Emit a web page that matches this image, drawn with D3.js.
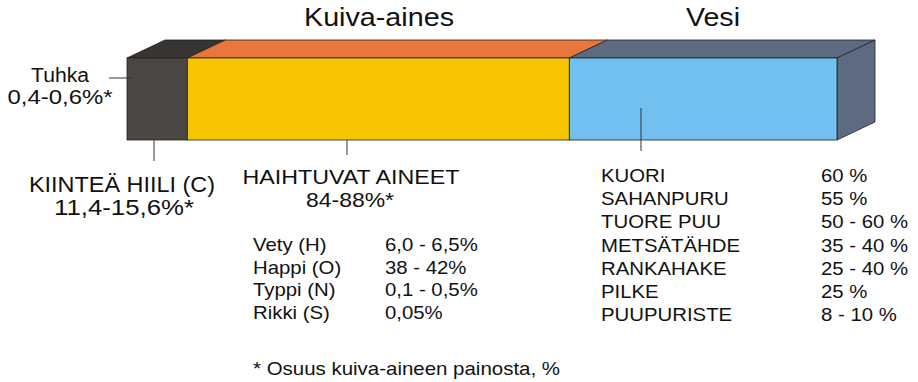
<!DOCTYPE html>
<html>
<head>
<meta charset="utf-8">
<script src="https://cdn.jsdelivr.net/npm/d3@7"></script>
<style>
  body { margin: 0; background: #fff; }
  svg { display: block; font-family: "Liberation Sans", Arial, sans-serif; fill: #111; }
</style>
</head>
<body>
<svg id="chart" width="918" height="382"></svg>
<script>
// bar segments (schematic share of the bar width)
const segments = ["Tuhka + kiinteä hiili", "Haihtuvat aineet", "Vesi"];
const segmentShares = [8.5, 53.8, 37.7];
const frontColors = ["#4a4644", "#f6c400", "#72c0f0"];
const topColors = ["#383432", "#e8773e", "#5e6a82"];

const groupTitles = ["Kuiva-aines", "Vesi"];

const elements = ["Vety (H)", "Happi (O)", "Typpi (N)", "Rikki (S)"];
const elementShares = ["6,0 - 6,5%", "38 - 42%", "0,1 - 0,5%", "0,05%"];

const fuels = ["KUORI", "SAHANPURU", "TUORE PUU", "METSÄTÄHDE", "RANKAHAKE", "PILKE", "PUUPURISTE"];
const moisture = ["60 %", "55 %", "50 - 60 %", "35 - 40 %", "25 - 40 %", "25 %", "8 - 10 %"];

const Chart = {
    svg: null,
    bar: { x0: 127, x1: 837, y0: 58, y1: 140, dx: 38, dy: -18 },

    init() {
        this.svg = d3.select("#chart");
        this.drawBar();
        this.drawLeaders();
        this.drawLabels();
        this.drawTables();
    },

    drawBar() {
        const b = this.bar;
        const x = d3.scaleLinear()
            .domain([0, d3.sum(segmentShares)])
            .range([b.x0, b.x1]);
        const cum = d3.cumsum(segmentShares);
        const parts = segments.map((name, i) => ({
            name,
            start: i ? cum[i - 1] : 0,
            end: cum[i],
            front: frontColors[i],
            top: topColors[i]
        }));
        const g = this.svg.append("g").attr("class", "bar");
        const line = d3.line();

        // top faces
        g.selectAll("path.top").data(parts).enter().append("path")
            .attr("class", "top")
            .attr("d", d => line([
                [x(d.start), b.y0], [x(d.end), b.y0],
                [x(d.end) + b.dx, b.y0 + b.dy], [x(d.start) + b.dx, b.y0 + b.dy]
            ]) + "Z")
            .attr("fill", d => d.top)
            .attr("stroke", "#222")
            .attr("stroke-width", 0.8)
            .attr("stroke-linejoin", "round");

        // right side
        const last = parts[parts.length - 1];
        g.append("path")
            .attr("d", line([
                [x(last.end), b.y0], [x(last.end) + b.dx, b.y0 + b.dy],
                [x(last.end) + b.dx, b.y1 + b.dy], [x(last.end), b.y1]
            ]) + "Z")
            .attr("fill", last.top)
            .attr("stroke", "#222")
            .attr("stroke-width", 0.8);

        // front faces
        g.selectAll("rect.front").data(parts).enter().append("rect")
            .attr("class", "front")
            .attr("x", d => x(d.start))
            .attr("y", b.y0)
            .attr("width", d => x(d.end) - x(d.start))
            .attr("height", b.y1 - b.y0)
            .attr("fill", d => d.front)
            .attr("stroke", "#222")
            .attr("stroke-width", 0.8);
    },

    drawLeaders() {
        const leaders = [
            [[109, 78], [132, 78]],
            [[154, 140], [154, 161]],
            [[347, 140], [347, 155]],
            [[641, 108], [641, 151]]
        ];
        this.svg.append("g").selectAll("path").data(leaders).enter().append("path")
            .attr("d", d3.line())
            .attr("stroke", "#333")
            .attr("stroke-width", 1)
            .attr("fill", "none");
    },

    text(str, x, y, size, opts = {}) {
        const t = this.svg.append("text")
            .attr("x", x)
            .attr("y", y)
            .attr("font-size", size)
            .attr("text-anchor", opts.anchor || "start")
            .text(str);
        const w = opts.width || t.node().getComputedTextLength() * (opts.stretch || 1.1);
        t.attr("textLength", w).attr("lengthAdjust", "spacingAndGlyphs");
        return t;
    },

    drawLabels() {
        this.text(groupTitles[0], 379, 26, 26, { anchor: "middle", width: 150 });
        this.text(groupTitles[1], 713, 26, 26, { anchor: "middle", width: 54 });

        this.text("Tuhka", 60, 82, 20, { anchor: "middle", width: 58 });
        this.text("0,4-0,6%*", 60, 104, 20, { anchor: "middle", width: 105 });

        this.text("KIINTEÄ HIILI (C)", 122, 192, 22, { anchor: "middle", width: 186 });
        this.text("11,4-15,6%*", 124, 215, 22, { anchor: "middle", width: 140 });

        this.text("HAIHTUVAT AINEET", 351, 184, 21, { anchor: "middle", width: 217 });
        this.text("84-88%*", 350, 207, 21, { anchor: "middle", width: 88 });

        this.text("* Osuus kuiva-aineen painosta, %", 253, 375, 18.5, { width: 307 });
    },

    drawTables() {
        const rowL = d3.scalePoint().domain(elements).range([251, 319]);
        elements.forEach((e, i) => {
            this.text(e, 253, rowL(e), 18.5);
            this.text(elementShares[i], 385, rowL(e), 18.5);
        });

        const rowR = d3.scalePoint().domain(fuels).range([182, 321]);
        fuels.forEach((f, i) => {
            this.text(f, 601, rowR(f), 18.5);
            this.text(moisture[i], 821, rowR(f), 18.5);
        });
    }
};

Chart.init();
</script>
</body>
</html>
